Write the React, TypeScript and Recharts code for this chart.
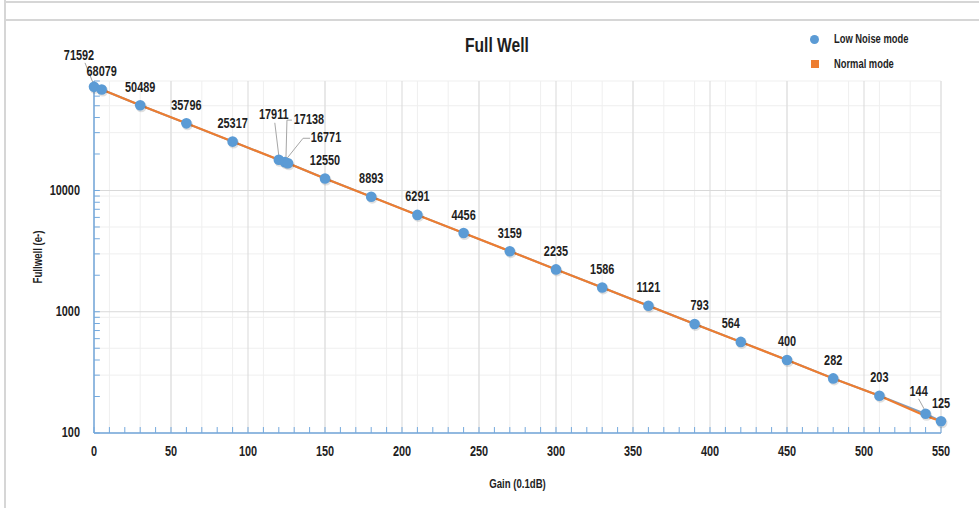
import React from "react";
import {
  ComposedChart,
  Line,
  Scatter,
  XAxis,
  YAxis,
  CartesianGrid,
  ReferenceLine,
} from "recharts";

// Gain (0.1dB) and full well (e-) for each measured point
const gains = [0, 5, 30, 60, 90, 120, 124, 126, 150, 180, 210, 240, 270, 300, 330, 360, 390, 420, 450, 480, 510, 540, 550];
const lowNoise = [71592, 68079, 50489, 35796, 25317, 17911, 17138, 16771, 12550, 8893, 6291, 4456, 3159, 2235, 1586, 1121, 793, 564, 400, 282, 203, 144, 125];
const normal = [71592, 68079, 50489, 35796, 25317, 17911, 17138, 16771, 12550, 8893, 6291, 4456, 3159, 2235, 1586, 1121, 793, 564, 400, 282, 203, 138, 125];

const xTicks = [0, 50, 100, 150, 200, 250, 300, 350, 400, 450, 500, 550];
const yTicks = [100, 1000, 10000];
const yMinor = [200, 300, 400, 500, 600, 700, 800, 900, 2000, 3000, 4000, 5000, 6000, 7000, 8000, 9000, 20000, 30000, 40000, 50000, 60000, 70000, 80000];
const xMinor = Array.from({ length: 56 }, (_, i) => i * 10);

const seriesNames = ["Low Noise mode", "Normal mode"];
const BLUE = "#5b9bd5";
const ORANGE = "#ed7d31";
const AXIS = "#74a9dd";
const INK = "#1e1e1e";
const FONT = "'Liberation Sans', Arial, sans-serif";
const SQUEEZE = 0.78; // the original uses a condensed face

const lowData = gains.map((g, i) => ({ gain: g, fw: lowNoise[i] }));
const normalData = gains.map((g, i) => ({ gain: g, fw: normal[i] }));

// label placement per point (pixels from the marker), leaders where labels crowd
const labelPos: Record<number, { dx: number; dy: number; leader?: number[][] }> = {
  0: { dx: -15, dy: -31, leader: [[-1, -4], [-9, -24]] },
  5: { dx: 0, dy: -18 },
  120: { dx: -5, dy: -45, leader: [[0, -4], [-4, -37]] },
  124: { dx: 24, dy: -43, leader: [[1, -4], [2, -42], [7, -42]] },
  126: { dx: 38, dy: -26, leader: [[-1, -5], [15, -25], [22, -25]] },
  390: { dx: 5, dy: -18 },
  420: { dx: -10, dy: -18 },
  540: { dx: -7, dy: -22, leader: [[-1, -4], [-7, -15]] },
};

const CText = ({ x, y, anchor = "middle", size = 14, rotate = 0, scale = SQUEEZE, children }: any) => (
  <text
    transform={`translate(${x},${y}) rotate(${rotate}) scale(${scale},1)`}
    textAnchor={anchor}
    dominantBaseline="central"
    fontFamily={FONT}
    fontWeight="bold"
    fontSize={size}
    fill={INK}
  >
    {children}
  </text>
);

const Marker = (props: any) => {
  const { cx, cy, payload } = props;
  if (cx == null || cy == null) return null;
  const pos = labelPos[payload.gain] || { dx: 0, dy: -18 };
  return (
    <g>
      {pos.leader && (
        <polyline
          points={pos.leader.map((p) => `${cx + p[0]},${cy + p[1]}`).join(" ")}
          fill="none"
          stroke="#a6a6a6"
          strokeWidth={1}
        />
      )}
      <circle cx={cx + 1} cy={cy + 1.5} r={5.5} fill="rgba(0,0,0,0.12)" />
      <circle cx={cx} cy={cy} r={5.3} fill={BLUE} />
      <CText x={cx + pos.dx} y={cy + pos.dy}>
        {payload.fw}
      </CText>
    </g>
  );
};

const XTick = (p: any) => (
  <CText x={p.x} y={p.y + 5}>
    {p.payload.value}
  </CText>
);
const YTick = (p: any) => (
  <CText x={p.x} y={p.y} anchor="end">
    {p.payload.value}
  </CText>
);

const squeezed = (origin: string): React.CSSProperties => ({
  display: "inline-block",
  transform: `scaleX(${SQUEEZE})`,
  transformOrigin: origin,
  whiteSpace: "nowrap",
});

export default function App() {
  return (
    <div style={{ position: "absolute", left: 0, top: 0, width: 979, height: 508, background: "#fff", fontFamily: FONT, fontWeight: "bold", color: INK }}>
      <div style={{ position: "absolute", left: 4, top: 0, width: 2, height: 508, background: "#d6d6d6" }} />
      <div style={{ position: "absolute", left: 6, top: 1, width: 973, height: 2, background: "#d6d6d6" }} />
      <div style={{ position: "absolute", left: 4, top: 19, width: 975, height: 2, background: "#d6d6d6" }} />
      <div style={{ position: "absolute", left: 0, width: 994, top: 34, textAlign: "center", fontSize: 20 }}>
        <span style={squeezed("center")}>Full Well</span>
      </div>
      <div style={{ position: "absolute", left: 810, top: 28, fontSize: 12 }}>
        <div style={{ display: "flex", alignItems: "center", height: 22 }}>
          <span style={{ width: 9, height: 9, borderRadius: "50%", background: BLUE, display: "inline-block", marginRight: 15 }} />
          <span style={squeezed("left center")}>{seriesNames[0]}</span>
        </div>
        <div style={{ display: "flex", alignItems: "center", height: 22, marginTop: 3 }}>
          <span style={{ width: 8, height: 8, background: ORANGE, display: "inline-block", marginLeft: 1, marginRight: 15 }} />
          <span style={squeezed("left center")}>{seriesNames[1]}</span>
        </div>
      </div>
      <ComposedChart
        width={979}
        height={508}
        margin={{ top: 81, right: 38, bottom: 15, left: 0 }}
        style={{ position: "absolute", left: 0, top: 0 }}
      >
        <CartesianGrid stroke="#efefef" strokeWidth={1} verticalValues={xMinor} horizontalValues={yMinor} />
        <CartesianGrid stroke="#d9d9d9" strokeWidth={1} verticalValues={xTicks} horizontalValues={yTicks} fill="none" />
        <XAxis
          type="number"
          dataKey="gain"
          domain={[0, 550]}
          ticks={xTicks}
          height={60}
          axisLine={{ stroke: AXIS, strokeWidth: 1.5 }}
          tickLine={false}
          tickSize={6}
          tickMargin={8}
          tick={XTick}
          label={{
            value: "Gain (0.1dB)",
            content: (lp: any) => (
              <CText x={lp.viewBox.x + lp.viewBox.width / 2} y={lp.viewBox.y + 50} size={13} scale={0.74}>
                Gain (0.1dB)
              </CText>
            ),
          }}
        />
        <YAxis
          type="number"
          scale="log"
          domain={[100, 80000]}
          ticks={yTicks}
          width={94}
          axisLine={{ stroke: AXIS, strokeWidth: 1.5 }}
          tickLine={false}
          tickSize={6}
          tickMargin={8}
          tick={YTick}
          label={{
            value: "Fullwell (e-)",
            content: (lp: any) => (
              <CText x={37} y={lp.viewBox.y + lp.viewBox.height / 2} size={13} rotate={-90} scale={0.74}>
                Fullwell (e-)
              </CText>
            ),
          }}
        />
        {xMinor.map((v) => (
          <ReferenceLine key={"xt" + v} segment={[{ x: v, y: 100 }, { x: v, y: 112 }]} stroke={AXIS} strokeWidth={1} />
        ))}
        {[...yMinor, ...yTicks].map((v) => (
          <ReferenceLine key={"yt" + v} segment={[{ x: 0, y: v }, { x: 3.8, y: v }]} stroke={AXIS} strokeWidth={1} />
        ))}
        <Line
          data={lowData}
          dataKey="fw"
          stroke="#7f9fc0"
          strokeWidth={2}
          dot={false}
          activeDot={false}
          isAnimationActive={false}
          legendType="none"
        />
        <Line
          data={normalData}
          dataKey="fw"
          name={seriesNames[1]}
          stroke={ORANGE}
          strokeWidth={2.2}
          dot={false}
          activeDot={false}
          isAnimationActive={false}
        />
        <Scatter
          data={lowData}
          dataKey="fw"
          name={seriesNames[0]}
          fill={BLUE}
          shape={Marker}
          isAnimationActive={false}
        />
      </ComposedChart>
    </div>
  );
}
